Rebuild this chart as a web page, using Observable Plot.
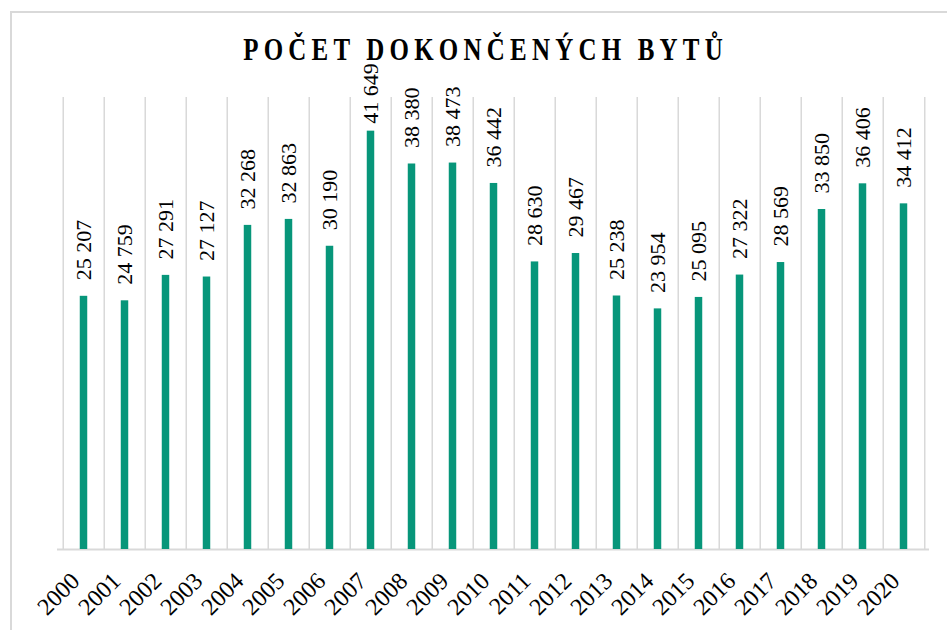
<!DOCTYPE html>
<html>
<head>
<meta charset="utf-8">
<script src="https://cdn.jsdelivr.net/npm/d3@7"></script>
<script src="https://cdn.jsdelivr.net/npm/@observablehq/plot@0.6"></script>
<style>
  html, body { margin: 0; padding: 0; background: #fff; width: 947px; height: 630px; overflow: hidden; }
  #frame { position: absolute; left: 10px; top: 11px; width: 2000px; height: 2000px;
           border-left: 2px solid #d9d9d9; border-top: 2px solid #d9d9d9; box-sizing: border-box; }
  #title { position: absolute; left: 482.5px; top: 33px; white-space: nowrap; z-index: 2;
           font-family: "Liberation Serif", "Times New Roman", serif; font-weight: bold;
           font-size: 32px; line-height: 32px; letter-spacing: 6.7px; padding-left: 6.7px;
           color: #000; transform: translateX(-50%) scaleX(0.78); }
  #chart { position: absolute; left: 0; top: 0; z-index: 1; }
  #chart svg { overflow: visible; }
  #chart svg text { font-family: "Liberation Serif", "Times New Roman", serif; }
</style>
</head>
<body>
<div id="frame"></div>
<div id="chart"></div>
<div id="title">POČET DOKONČENÝCH BYTŮ</div>
<script>
const years = ["2000","2001","2002","2003","2004","2005","2006","2007","2008","2009","2010",
               "2011","2012","2013","2014","2015","2016","2017","2018","2019","2020"];
const values = [25207, 24759, 27291, 27127, 32268, 32863, 30190, 41649, 38380, 38473, 36442,
                28630, 29467, 25238, 23954, 25095, 27322, 28569, 33850, 36406, 34412];
const yDomain = [0, 45000];
// labels are kept below the title (as the spreadsheet does for the tallest bar)
const labelCeiling = 40800;

const data = years.map((year, i) => ({year, value: values[i]}));
const fmt = v => d3.format(",")(v).replace(/,/g, "\u00a0");

const W = 947, H = 630, mL = 57, mR = 18, mT = 97, mB = 81;
const bw = (W - mL - mR) / years.length;
const barW = 8;
const grid = "#d9d9d9";
const serif = '"Liberation Serif", "Times New Roman", serif';

const chart = Plot.plot({
  width: W, height: H,
  marginLeft: mL, marginRight: mR, marginTop: mT, marginBottom: mB,
  x: {domain: years, padding: 0, axis: null},
  y: {domain: yDomain, axis: null},
  style: {fontFamily: serif, background: "transparent", color: "#000", overflow: "visible"},
  marks: [
    Plot.ruleX(years, {x: d => d, dx: -bw / 2, y1: yDomain[0], y2: yDomain[1], stroke: grid, strokeWidth: 1.5}),
    Plot.ruleX(years.slice(-1), {x: d => d, dx: bw / 2, y1: yDomain[0], y2: yDomain[1], stroke: grid, strokeWidth: 1.5}),
    Plot.ruleY([0], {stroke: grid, strokeWidth: 2}),
    Plot.barY(data, {x: "year", y: "value", fill: "#07967a",
                     insetLeft: (bw - barW) / 2, insetRight: (bw - barW) / 2}),
    Plot.text(data, {x: "year", y: d => Math.min(d.value, labelCeiling), text: d => fmt(d.value), rotate: -90,
                     textAnchor: "start", dy: -16, fontSize: 22, fill: "#000", fontFamily: serif}),
    Plot.text(years, {x: d => d, frameAnchor: "bottom", text: d => d, rotate: -45,
                      textAnchor: "end", dx: -3, dy: 33, fontSize: 24, fill: "#000", fontFamily: serif})
  ]
});
document.getElementById("chart").appendChild(chart);
</script>
</body>
</html>
